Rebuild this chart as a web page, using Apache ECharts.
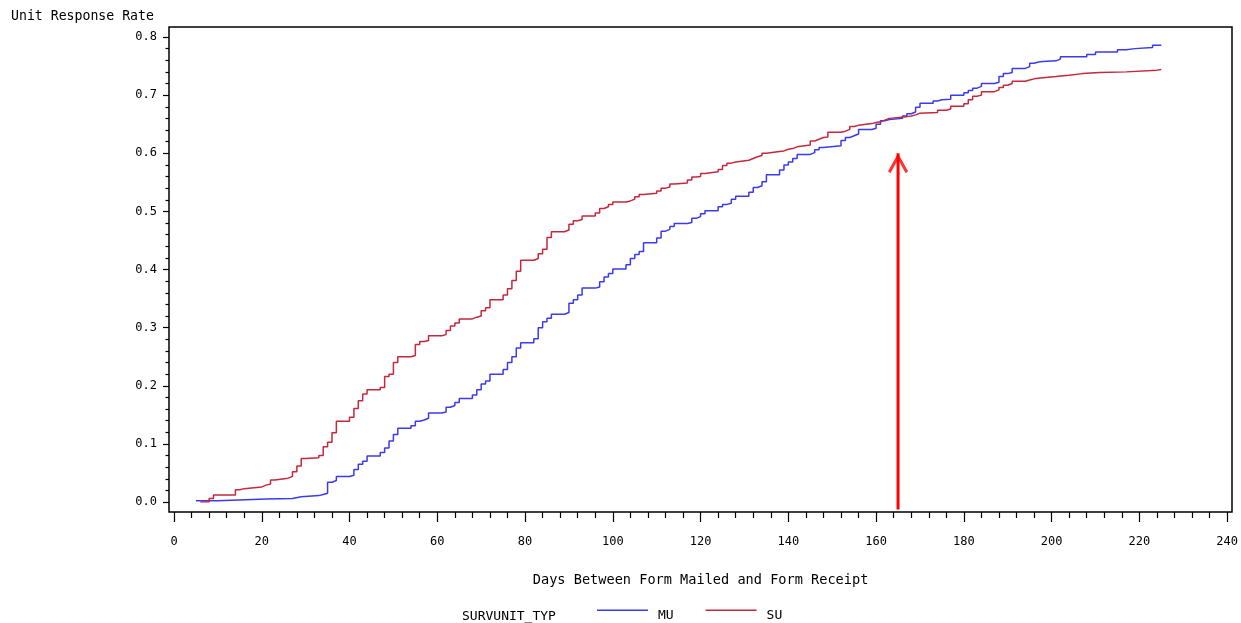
<!DOCTYPE html>
<html>
<head>
<meta charset="utf-8">
<script src="https://cdn.jsdelivr.net/npm/echarts@6/dist/echarts.min.js"></script>
<style>
html,body{margin:0;padding:0;background:#fff;}
#chart{width:1241px;height:623px;}
</style>
</head>
<body>
<div id="chart"></div>
<script>
// ---- data ----
const xTicks = [0, 20, 40, 60, 80, 100, 120, 140, 160, 180, 200, 220, 240];
const yTicks = [0.0, 0.1, 0.2, 0.3, 0.4, 0.5, 0.6, 0.7, 0.8];
const seriesNames = ['MU', 'SU'];
const legendTitle = 'SURVUNIT_TYP';
const xTitle = 'Days Between Form Mailed and Form Receipt';
const yTitle = 'Unit Response Rate';

const muDays = [5,10,21,27,29,33,34,35,36,37,40,41,42,43,44,47,48,49,50,51,54,55,56,57,58,61,62,63,64,65,68,69,70,71,72,75,76,77,78,79,82,83,84,85,86,89,90,91,92,93,96,97,98,99,100,103,104,105,106,107,110,111,112,113,114,117,118,119,120,121,124,125,126,127,128,131,132,133,134,135,138,139,140,141,142,145,146,147,148,152,153,154,155,156,159,160,161,162,163,166,167,168,169,170,173,174,175,177,180,181,182,183,184,187,188,189,190,191,194,195,196,197,198,201,202,208,210,215,217,219,223,225];
const muRate = [0.002,0.005,0.006,0.009,0.011,0.013,0.015,0.034,0.037,0.044,0.046,0.056,0.065,0.070,0.079,0.085,0.093,0.105,0.116,0.127,0.131,0.139,0.141,0.144,0.153,0.155,0.163,0.166,0.171,0.178,0.184,0.193,0.203,0.208,0.220,0.228,0.240,0.250,0.265,0.274,0.281,0.300,0.310,0.316,0.323,0.326,0.342,0.348,0.356,0.368,0.370,0.379,0.387,0.393,0.401,0.408,0.419,0.426,0.431,0.446,0.454,0.466,0.469,0.474,0.479,0.481,0.488,0.491,0.496,0.501,0.508,0.512,0.514,0.521,0.526,0.533,0.541,0.544,0.551,0.563,0.571,0.580,0.585,0.591,0.598,0.601,0.606,0.610,0.613,0.622,0.627,0.630,0.633,0.641,0.643,0.650,0.656,0.658,0.660,0.664,0.668,0.671,0.679,0.686,0.690,0.692,0.693,0.700,0.704,0.708,0.712,0.715,0.720,0.722,0.732,0.737,0.739,0.746,0.749,0.755,0.757,0.758,0.759,0.762,0.766,0.770,0.774,0.778,0.780,0.782,0.786,0.786];

const suDays = [6,8,9,14,15,16,20,21,22,23,26,27,28,29,30,33,34,35,36,37,40,41,42,43,44,47,48,49,50,51,54,55,56,57,58,61,62,63,64,65,68,69,70,71,72,75,76,77,78,79,82,83,84,85,86,89,90,91,92,93,96,97,98,99,100,103,104,105,106,107,110,111,112,113,114,117,118,119,120,121,124,125,126,127,128,131,132,133,134,135,138,139,140,141,142,145,146,147,148,149,152,153,154,155,156,159,160,161,162,163,167,168,169,170,174,176,177,180,181,182,183,184,187,188,189,190,191,194,195,196,198,201,202,204,207,211,217,224,225];
const suRate = [0.000,0.006,0.012,0.021,0.023,0.026,0.029,0.031,0.038,0.041,0.044,0.052,0.062,0.075,0.076,0.080,0.095,0.103,0.119,0.139,0.146,0.161,0.174,0.186,0.193,0.197,0.216,0.220,0.240,0.250,0.252,0.271,0.276,0.278,0.286,0.288,0.295,0.303,0.308,0.315,0.318,0.320,0.329,0.334,0.348,0.356,0.367,0.381,0.397,0.416,0.419,0.427,0.435,0.455,0.465,0.468,0.478,0.484,0.486,0.492,0.497,0.505,0.508,0.512,0.516,0.518,0.521,0.525,0.529,0.531,0.535,0.540,0.542,0.547,0.549,0.554,0.559,0.560,0.565,0.568,0.572,0.579,0.583,0.585,0.588,0.591,0.594,0.596,0.600,0.603,0.604,0.607,0.608,0.611,0.614,0.621,0.624,0.627,0.628,0.636,0.638,0.641,0.646,0.648,0.651,0.653,0.654,0.657,0.660,0.663,0.664,0.666,0.669,0.670,0.674,0.676,0.681,0.685,0.692,0.698,0.700,0.706,0.709,0.713,0.717,0.720,0.724,0.726,0.728,0.730,0.732,0.733,0.734,0.737,0.739,0.740,0.743,0.744,0.744];

// annotation arrow (day, rate)
const arrowDays = [165, 165];
const arrowRate = [-0.013, 0.6];

// ---- chart ----
const FONT = 'DejaVu Sans Mono';
const zip = (a, b) => a.map((v, i) => [v, b[i]]);
const chart = echarts.init(document.getElementById('chart'), null, {renderer: 'canvas'});

const option = {
  backgroundColor: '#ffffff',
  animation: false,
  textStyle: {fontFamily: FONT, color: '#000'},
  grid: [
    {left: 174, right: 11, top: 37, bottom: 121, containLabel: false},
    {left: 169, right: 9, top: 27, bottom: 111, show: true, borderColor: '#000', borderWidth: 1.5, backgroundColor: 'transparent', z: 1}
  ],
  xAxis: [
    {
      type: 'value', gridIndex: 0,
      min: xTicks[0], max: xTicks[xTicks.length - 1], interval: xTicks[1] - xTicks[0],
      offset: 10,
      axisLine: {show: false, onZero: false},
      axisTick: {show: true, length: 10, lineStyle: {color: '#000', width: 1.2}},
      minorTick: {show: true, splitNumber: 5, length: 6, lineStyle: {color: '#000', width: 1.2}},
      splitLine: {show: false},
      axisLabel: {margin: 24, fontSize: 12, fontFamily: FONT, color: '#000', showMinLabel: true, showMaxLabel: true},
      name: xTitle, nameLocation: 'middle', nameGap: 61,
      nameTextStyle: {fontSize: 13.6, fontFamily: FONT, color: '#000'}
    },
    {type: 'value', gridIndex: 1, show: false, min: 0, max: 1}
  ],
  yAxis: [
    {
      type: 'value', gridIndex: 0,
      min: yTicks[0], max: yTicks[yTicks.length - 1], interval: yTicks[1] - yTicks[0],
      offset: 5,
      axisLine: {show: false, onZero: false},
      axisTick: {show: true, length: 6, lineStyle: {color: '#000', width: 1.2}},
      minorTick: {show: true, splitNumber: 5, length: 3.5, lineStyle: {color: '#000', width: 1.2}},
      splitLine: {show: false},
      axisLabel: {margin: 12, fontSize: 12, fontFamily: FONT, color: '#000', formatter: v => v.toFixed(1)}
    },
    {type: 'value', gridIndex: 1, show: false, min: 0, max: 1}
  ],
  legend: {
    data: seriesNames,
    left: 597, top: 609, padding: 0,
    icon: 'path://M0,0 L51,0 L51,1.6 L0,1.6 Z M0,12 L0.01,12 L0,12.01 Z',
    itemWidth: 51, itemHeight: 12, itemGap: 32,
    textStyle: {fontFamily: FONT, fontSize: 13, color: '#000', padding: [0, 0, 0, 5]}
  },
  graphic: [
    {type: 'text', left: 11, top: 10, style: {text: yTitle, font: '13.2px "DejaVu Sans Mono"', fill: '#000'}},
    {type: 'text', left: 462, top: 610, style: {text: legendTitle, font: '13px "DejaVu Sans Mono"', fill: '#000'}}
  ],
  series: [
    {
      name: seriesNames[0], type: 'line', step: 'end', xAxisIndex: 0, yAxisIndex: 0,
      data: zip(muDays, muRate), showSymbol: false, symbol: 'none',
      lineStyle: {color: '#3a3aee', width: 1.5}, itemStyle: {color: '#3a3aee'}, z: 3
    },
    {
      name: seriesNames[1], type: 'line', step: 'end', xAxisIndex: 0, yAxisIndex: 0,
      data: zip(suDays, suRate), showSymbol: false, symbol: 'none',
      lineStyle: {color: '#c3283d', width: 1.5}, itemStyle: {color: '#c3283d'}, z: 3
    },
    {
      name: 'arrow', type: 'line', xAxisIndex: 0, yAxisIndex: 0, clip: false,
      data: zip(arrowDays, arrowRate), showSymbol: false, symbol: 'none', silent: true,
      lineStyle: {color: '#ff0000', width: 3}, z: 4
    },
    {
      name: 'arrowhead', type: 'scatter', xAxisIndex: 0, yAxisIndex: 0, clip: false,
      data: [[arrowDays[1], arrowRate[1]]], silent: true,
      symbol: 'path://M10,0 L20,17.6 L17.6,19.5 L10,6 L2.4,19.5 L0,17.6 Z',
      symbolSize: [20, 20], symbolOffset: [0, 10],
      itemStyle: {color: '#ff0000'}, z: 4
    }
  ]
};
chart.setOption(option);
</script>
</body>
</html>
